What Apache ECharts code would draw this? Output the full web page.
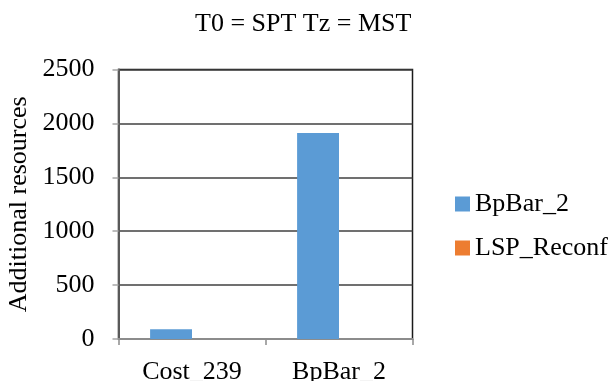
<!DOCTYPE html>
<html>
<head>
<meta charset="utf-8">
<script src="https://cdn.jsdelivr.net/npm/echarts@6/dist/echarts.min.js"></script>
<style>
html,body{margin:0;padding:0;background:#fff;}
#chart{width:613px;height:381px;}
</style>
</head>
<body>
<div id="chart"></div>
<script>
var categories = ['Cost_239', 'BpBar_2'];
var seriesNames = ['BpBar_2', 'LSP_Reconf'];
var bpBarValues = [90, 1912];
var lspReconfValues = [0, 0];
var yTicks = [0, 500, 1000, 1500, 2000, 2500];

var FONT = '"Liberation Serif", "Times New Roman", serif';
var chart = echarts.init(document.getElementById('chart'), null, {renderer: 'canvas'});
chart.setOption({
  animation: false,
  backgroundColor: '#ffffff',
  title: {
    text: 'T0 = SPT Tz = MST',
    left: 190,
    top: 6,
    textStyle: {fontFamily: FONT, fontSize: 26, fontWeight: 'normal', color: '#000'}
  },
  legend: {
    orient: 'vertical',
    left: 450,
    top: 184,
    itemWidth: 15,
    itemHeight: 15,
    itemGap: 14,
    icon: 'rect',
    data: seriesNames,
    textStyle: {fontFamily: FONT, fontSize: 26, color: '#000', lineHeight: 30}
  },
  grid: {
    left: 118.5, right: 200.5, top: 69.5, bottom: 42,
    outerBoundsMode: 'none',
    containLabel: false,
    show: true, borderColor: '#1a1a1a', borderWidth: 1.5, backgroundColor: 'transparent'
  },
  xAxis: {
    type: 'category',
    data: categories,
    axisLine: {lineStyle: {color: '#8c8c8c', width: 2}},
    axisTick: {show: true, length: 6, lineStyle: {color: '#8c8c8c', width: 1.5}},
    axisLabel: {fontFamily: FONT, fontSize: 26, color: '#000', margin: 20},
    splitLine: {show: false}
  },
  yAxis: {
    type: 'value',
    min: yTicks[0],
    max: yTicks[yTicks.length - 1],
    interval: 500,
    name: 'Additional resources',
    nameLocation: 'middle',
    nameGap: 86,
    nameTextStyle: {fontFamily: FONT, fontSize: 26, color: '#000'},
    axisLine: {show: true, lineStyle: {color: '#595959', width: 2}},
    axisTick: {show: true, length: 6, lineStyle: {color: '#a6a6a6', width: 1.5}},
    axisLabel: {fontFamily: FONT, fontSize: 26, color: '#000', margin: 24, formatter: function (v) { return String(v); }},
    splitLine: {show: true, lineStyle: {color: '#404040', width: 1.5}}
  },
  series: [
    {name: seriesNames[0], type: 'bar', data: bpBarValues, barGap: '0%', barCategoryGap: '43%', itemStyle: {color: '#5B9BD5'}},
    {name: seriesNames[1], type: 'bar', data: lspReconfValues, barGap: '0%', barCategoryGap: '43%', itemStyle: {color: '#ED7D31'}}
  ]
});
</script>
</body>
</html>
